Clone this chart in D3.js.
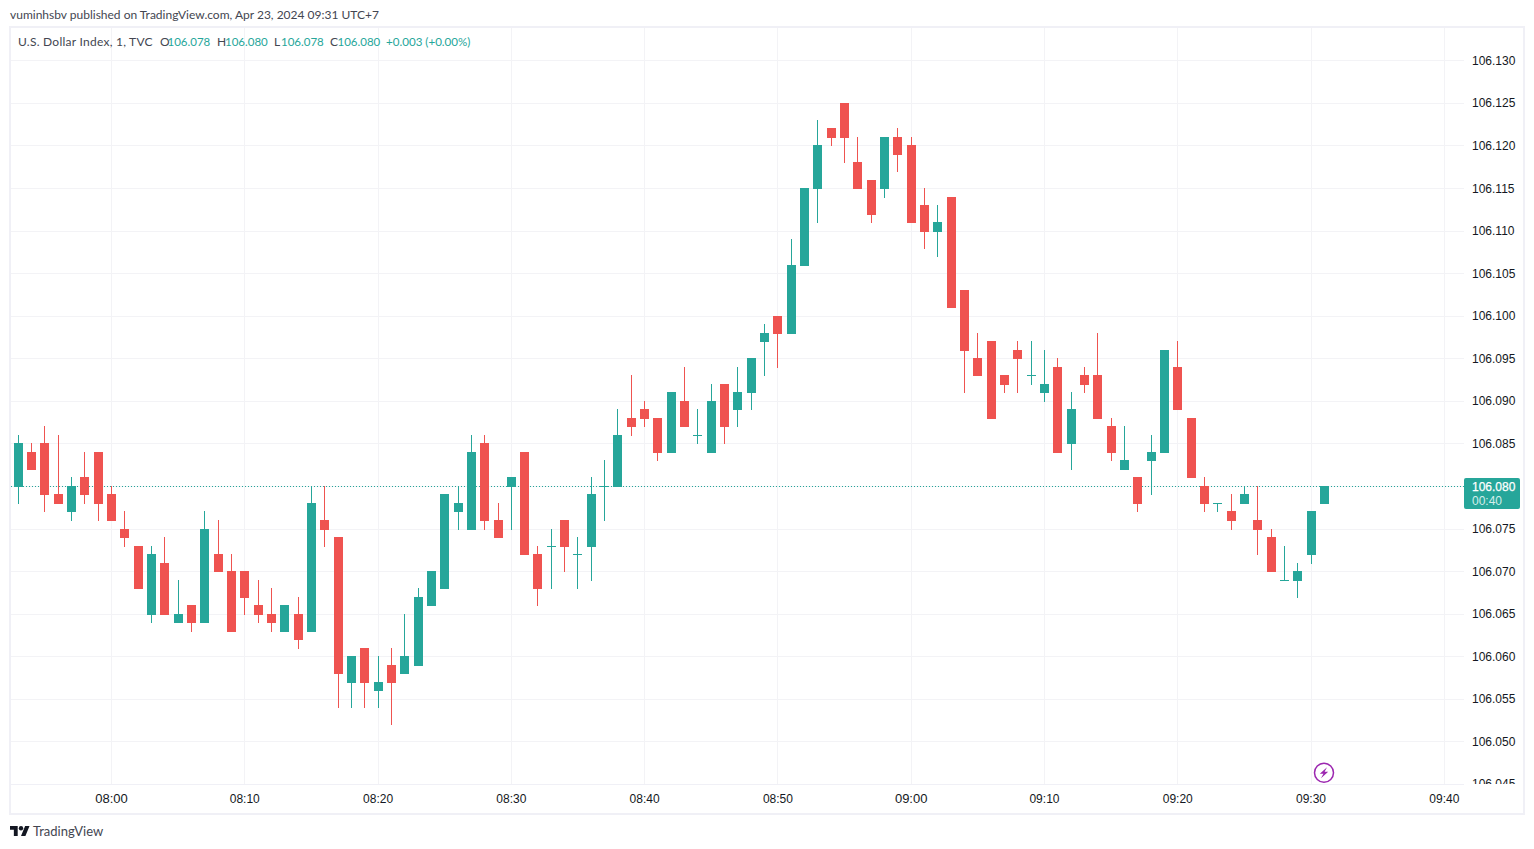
<!DOCTYPE html>
<meta charset="utf-8" />
<script src="https://d3js.org/d3.v7.min.js"></script>
<style>
  html, body { margin: 0; padding: 0; background: #fff; overflow: hidden; }
  svg { display: block; }
  text { font-family: Lato, sans-serif; }
  .axis text { font-family: "Liberation Sans", sans-serif; font-size: 12px; fill: #131722; }
  .axis .domain, .axis line { display: none; }
</style>
<div id="chart"></div>
<script>
  // candles, one per minute, teal when close >= open
  const times = [
    "07:53","07:54","07:55","07:56","07:57","07:58","07:59","08:00","08:01","08:02",
    "08:03","08:04","08:05","08:06","08:07","08:08","08:09","08:10","08:11","08:12",
    "08:13","08:14","08:15","08:16","08:17","08:18","08:19","08:20","08:21","08:22",
    "08:23","08:24","08:25","08:26","08:27","08:28","08:29","08:30","08:31","08:32",
    "08:33","08:34","08:35","08:36","08:37","08:38","08:39","08:40","08:41","08:42",
    "08:43","08:44","08:45","08:46","08:47","08:48","08:49","08:50","08:51","08:52",
    "08:53","08:54","08:55","08:56","08:57","08:58","08:59","09:00","09:01","09:02",
    "09:03","09:04","09:05","09:06","09:07","09:08","09:09","09:10","09:11","09:12",
    "09:13","09:14","09:15","09:16","09:17","09:18","09:19","09:20","09:21","09:22",
    "09:23","09:24","09:25","09:26","09:27","09:28","09:29","09:30","09:31"
  ];
  const opens = [
    106.080,106.084,106.085,106.079,106.077,106.081,106.084,106.079,106.075,106.073,
    106.065,106.071,106.064,106.066,106.064,106.072,106.070,106.070,106.066,106.065,
    106.063,106.065,106.063,106.076,106.074,106.057,106.061,106.056,106.059,106.058,
    106.059,106.066,106.068,106.077,106.075,106.085,106.076,106.080,106.084,106.072,
    106.073,106.076,106.072,106.073,106.080,106.080,106.088,106.089,106.088,106.084,
    106.090,106.086,106.084,106.092,106.089,106.091,106.097,106.100,106.098,106.106,
    106.115,106.122,106.125,106.118,106.116,106.115,106.121,106.120,106.113,106.110,
    106.114,106.103,106.095,106.097,106.093,106.096,106.093,106.091,106.094,106.085,
    106.093,106.093,106.087,106.082,106.081,106.083,106.084,106.094,106.088,106.080,
    106.078,106.077,106.078,106.076,106.074,106.069,106.069,106.072,106.078
  ];
  const highs = [
    106.086,106.085,106.087,106.086,106.081,106.084,106.084,106.080,106.077,106.073,
    106.073,106.074,106.069,106.066,106.077,106.076,106.072,106.070,106.069,106.068,
    106.066,106.067,106.080,106.080,106.074,106.060,106.061,106.060,106.061,106.065,
    106.068,106.070,106.079,106.080,106.086,106.086,106.078,106.081,106.084,106.073,
    106.075,106.076,106.074,106.081,106.083,106.089,106.093,106.090,106.088,106.091,
    106.094,106.089,106.092,106.092,106.094,106.095,106.099,106.100,106.109,106.115,
    106.123,106.122,106.125,106.121,106.116,106.121,106.122,106.121,106.115,106.113,
    106.114,106.103,106.098,106.097,106.093,106.097,106.097,106.096,106.095,106.091,
    106.094,106.098,106.088,106.087,106.081,106.086,106.096,106.097,106.088,106.081,
    106.078,106.079,106.080,106.080,106.075,106.073,106.071,106.077,106.080
  ];
  const lows = [
    106.078,106.082,106.077,106.078,106.076,106.078,106.076,106.076,106.073,106.068,
    106.064,106.065,106.064,106.063,106.064,106.070,106.063,106.065,106.064,106.063,
    106.063,106.061,106.063,106.073,106.054,106.054,106.054,106.054,106.052,106.058,
    106.059,106.066,106.068,106.075,106.075,106.075,106.074,106.075,106.072,106.066,
    106.068,106.070,106.068,106.069,106.076,106.080,106.086,106.087,106.083,106.084,
    106.087,106.085,106.084,106.085,106.087,106.089,106.093,106.094,106.098,106.106,
    106.111,106.120,106.118,106.115,106.111,106.114,106.117,106.111,106.108,106.107,
    106.101,106.091,106.093,106.088,106.091,106.091,106.092,106.090,106.084,106.082,
    106.091,106.088,106.083,106.082,106.077,106.079,106.084,106.089,106.081,106.077,
    106.077,106.075,106.078,106.072,106.070,106.069,106.067,106.071,106.078
  ];
  const closes = [
    106.085,106.082,106.079,106.078,106.080,106.079,106.078,106.076,106.074,106.068,
    106.072,106.065,106.065,106.064,106.075,106.070,106.063,106.067,106.065,106.064,
    106.066,106.062,106.078,106.075,106.058,106.060,106.057,106.057,106.057,106.060,
    106.067,106.070,106.079,106.078,106.084,106.076,106.074,106.081,106.072,106.068,
    106.073,106.073,106.072,106.079,106.080,106.086,106.087,106.088,106.084,106.091,
    106.087,106.086,106.090,106.087,106.091,106.095,106.098,106.098,106.106,106.115,
    106.120,106.121,106.121,106.115,106.112,106.121,106.119,106.111,106.110,106.111,
    106.101,106.096,106.093,106.088,106.092,106.095,106.093,106.092,106.084,106.089,
    106.092,106.088,106.084,106.083,106.078,106.084,106.096,106.089,106.081,106.078,
    106.078,106.076,106.079,106.075,106.070,106.069,106.070,106.077,106.080
  ];
  const priceTicks = [
    106.045,106.050,106.055,106.060,106.065,106.070,106.075,106.080,106.085,
    106.090,106.095,106.100,106.105,106.110,106.115,106.120,106.125,106.130
  ];
  const timeTicks = ["08:00","08:10","08:20","08:30","08:40","08:50","09:00","09:10","09:20","09:30","09:40"];
  const lastPrice = 106.080;
  const countdown = "00:40";

  const UP = "#26a69a", DOWN = "#ef5350", GRID = "#f3f3f6", FRAME = "#f0f0f6";
  const pane = { left: 11, top: 28, right: 1464, bottom: 784 };

  const parseTime = d3.timeParse("%H:%M");
  const x = d3.scaleTime()
    .domain([parseTime("08:00"), parseTime("09:40")])
    .range([111.5, 1444.3]);
  const y = d3.scaleLinear()
    .domain([106.045, 106.130])
    .range([784.37, 60.85]);
  const px = (d) => Math.floor(x(parseTime(d)));
  const py = (d) => Math.floor(y(d));

  const svg = d3.select("#chart").append("svg")
    .attr("width", 1534).attr("height", 849);

  // frame
  svg.append("rect")
    .attr("x", 10).attr("y", 27).attr("width", 1514).attr("height", 787)
    .attr("fill", "none").attr("stroke", FRAME).attr("stroke-width", 2);

  const defs = svg.append("defs");
  defs.append("clipPath").attr("id", "pane-clip").append("rect")
    .attr("x", pane.left).attr("y", pane.top)
    .attr("width", pane.right - pane.left).attr("height", pane.bottom - pane.top);
  defs.append("clipPath").attr("id", "price-clip").append("rect")
    .attr("x", pane.right).attr("y", pane.top)
    .attr("width", 59).attr("height", pane.bottom - pane.top);

  // grid
  const grid = svg.append("g").attr("clip-path", "url(#pane-clip)");
  grid.selectAll(".h").data(priceTicks).join("line")
    .attr("x1", pane.left).attr("x2", pane.right)
    .attr("y1", (d) => py(d) + 0.5).attr("y2", (d) => py(d) + 0.5)
    .attr("stroke", GRID);
  grid.selectAll(".v").data(timeTicks).join("line")
    .attr("x1", (d) => px(d) + 0.5).attr("x2", (d) => px(d) + 0.5)
    .attr("y1", pane.top).attr("y2", pane.bottom)
    .attr("stroke", GRID);

  // time axis line
  svg.append("line")
    .attr("x1", pane.left).attr("x2", pane.right)
    .attr("y1", 784.5).attr("y2", 784.5)
    .attr("stroke", FRAME);

  // last price line
  svg.append("line")
    .attr("x1", pane.left).attr("x2", pane.right)
    .attr("y1", py(lastPrice) + 0.5).attr("y2", py(lastPrice) + 0.5)
    .attr("stroke", UP).attr("stroke-dasharray", "1 2");

  // candles
  const candles = svg.append("g").selectAll("g")
    .data(times.map((t, i) => ({ t: t, o: opens[i], h: highs[i], l: lows[i], c: closes[i] })))
    .join("g")
    .attr("fill", (d) => (d.c >= d.o ? UP : DOWN));
  candles.append("rect")
    .attr("x", (d) => px(d.t)).attr("width", 1)
    .attr("y", (d) => py(d.h))
    .attr("height", (d) => py(d.l) + 1 - py(d.h));
  candles.append("rect")
    .attr("x", (d) => px(d.t) - 4).attr("width", 9)
    .attr("y", (d) => py(Math.max(d.o, d.c)))
    .attr("height", (d) => py(Math.min(d.o, d.c)) + 1 - py(Math.max(d.o, d.c)));

  // price axis
  svg.append("g").attr("clip-path", "url(#price-clip)").append("g")
    .attr("class", "axis")
    .attr("transform", "translate(1472,0)")
    .call(d3.axisRight(y).tickValues(priceTicks).tickFormat(d3.format(".3f")).tickSize(0).tickPadding(0).offset(0.2));

  // time axis
  const timeAxis = svg.append("g")
    .attr("class", "axis")
    .attr("transform", "translate(0,794)")
    .call(d3.axisBottom(x).tickValues(timeTicks.map(parseTime)).tickFormat(d3.timeFormat("%H:%M")).tickSize(0).tickPadding(0).offset(0));
  timeAxis.selectAll("text")
    .attr("dy", "0.71em")
    .style("font-size", (d) => (d.getMinutes() === 0 ? "13px" : "12px"));

  // last price label
  svg.append("rect")
    .attr("x", 1464).attr("y", 478).attr("width", 56).attr("height", 31)
    .attr("rx", 2).attr("fill", UP);
  svg.append("text")
    .attr("x", 1472).attr("y", py(lastPrice) + 5)
    .attr("fill", "#fff").attr("stroke", "#fff").attr("stroke-width", 0.25)
    .style("font-family", '"Liberation Sans", sans-serif').style("font-size", "12px")
    .text(d3.format(".3f")(lastPrice));
  svg.append("text")
    .attr("x", 1472).attr("y", py(lastPrice) + 19)
    .attr("fill", "#d4eeeb").style("font-family", '"Liberation Sans", sans-serif').style("font-size", "12px")
    .text(countdown);

  // header
  svg.append("text")
    .attr("x", 10).attr("y", 19)
    .attr("fill", "#434651").style("font-size", "12px")
    .text("vuminhsbv published on TradingView.com, Apr 23, 2024 09:31 UTC+7");

  const legend = [
    { x: 18, s: "U.S. Dollar Index, 1, TVC", c: "#434651", size: 12, ls: 0.25 },
    { x: 160, s: "O", c: "#434651", size: 12, ls: 0 },
    { x: 167.5, s: d3.format(".3f")(opens[98]), c: UP, size: 11.5, ls: 0 },
    { x: 217, s: "H", c: "#434651", size: 12, ls: 0 },
    { x: 225, s: d3.format(".3f")(highs[98]), c: UP, size: 11.5, ls: 0 },
    { x: 274, s: "L", c: "#434651", size: 12, ls: 0 },
    { x: 281, s: d3.format(".3f")(lows[98]), c: UP, size: 11.5, ls: 0 },
    { x: 330, s: "C", c: "#434651", size: 12, ls: 0 },
    { x: 337.5, s: d3.format(".3f")(closes[98]), c: UP, size: 11.5, ls: 0 },
    { x: 386, s: "+0.003 (+0.00%)", c: UP, size: 11.6, ls: 0 }
  ];
  svg.append("g").selectAll("text").data(legend).join("text")
    .attr("x", (d) => d.x).attr("y", 46)
    .attr("fill", (d) => d.c)
    .style("font-size", (d) => d.size + "px")
    .style("letter-spacing", (d) => d.ls + "px")
    .text((d) => d.s);

  // lightning badge
  const badge = svg.append("g").attr("transform", "translate(1324,772.7)");
  badge.append("circle").attr("r", 9.5)
    .attr("fill", "#fff").attr("stroke", "#9c27b0").attr("stroke-width", 1.5);
  badge.append("path")
    .attr("d", "M3 -5.5 L-4.2 1 L-0.6 1 L-3 5.5 L4.2 -1 L0.6 -1 Z")
    .attr("fill", "#9c27b0");

  // logo
  const logo = svg.append("g").attr("transform", "translate(10,823.8) scale(0.55)").attr("fill", "#131722");
  logo.append("path").attr("d", "M14 22H7V11H0V4h14v18zM28 22h-8l7.5-18h8L28 22z");
  logo.append("circle").attr("cx", 20).attr("cy", 8).attr("r", 4);
  svg.append("text")
    .attr("x", 33).attr("y", 836)
    .attr("fill", "#434651").style("font-size", "13px")
    .text("TradingView");
</script>
